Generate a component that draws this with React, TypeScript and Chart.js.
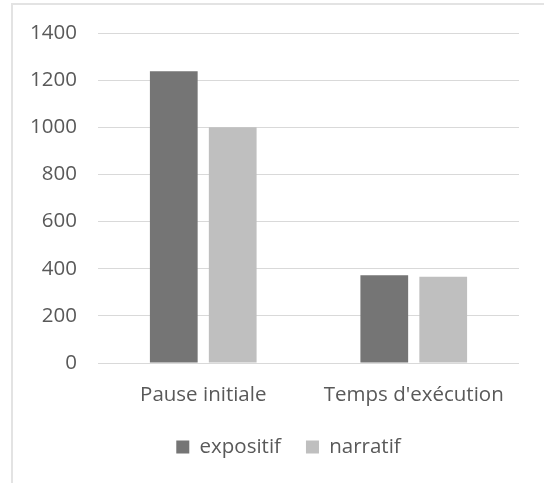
import React, { useEffect, useRef } from "react";
import { Chart, registerables } from "chart.js";

Chart.register(...registerables);

const categories = ["Pause initiale", "Temps d'exécution"];
const expositif = [1238, 372];
const narratif = [1000, 366];
const seriesNames = ["expositif", "narratif"];
const yTicks = [0, 200, 400, 600, 800, 1000, 1200, 1400];

const FONT = "'Open Sans', sans-serif";
const FS = 20.5;
const TEXT = "#595959";

export default function App() {
  const ref = useRef<HTMLCanvasElement | null>(null);

  useEffect(() => {
    if (!ref.current) return;
    const legendShift = {
      id: "legendShift",
      afterLayout(chart: any) {
        const l = chart.legend;
        if (l) {
          l.left += 29;
          l.right += 29;
        }
      },
    };
    const chart = new Chart(ref.current, {
      type: "bar",
      data: {
        labels: categories,
        datasets: [
          {
            label: seriesNames[0],
            data: expositif,
            backgroundColor: "#757575",
            borderWidth: 0,
          },
          {
            label: seriesNames[1],
            data: narratif,
            backgroundColor: "#bfbfbf",
            borderWidth: 0,
          },
        ],
      },
      options: {
        responsive: false,
        animation: false,
        devicePixelRatio: 1,
        categoryPercentage: 0.56,
        barPercentage: 0.81,
        layout: { padding: { left: 0, right: 25, top: 33, bottom: 15.75 } },
        plugins: {
          tooltip: { enabled: false },
          legend: {
            position: "bottom",
            labels: {
              boxWidth: 13,
              boxHeight: 13,
              padding: 25,
              color: TEXT,
              font: { family: FONT, size: FS },
            },
          },
        },
        scales: {
          x: {
            grid: { display: false, drawTicks: false },
            border: { display: false },
            ticks: {
              color: TEXT,
              padding: 19.7,
              font: { family: FONT, size: FS },
              maxRotation: 0,
            },
            afterFit: (s: any) => {
              s.height = 48.75;
              s.paddingLeft = 0;
              s.paddingRight = 0;
            },
          },
          y: {
            min: 0,
            max: 1400,
            afterBuildTicks: (s: any) => {
              s.ticks = yTicks.map((v) => ({ value: v }));
            },
            grid: { color: "#d9d9d9", lineWidth: 1, drawTicks: false },
            border: { display: false },
            ticks: {
              color: TEXT,
              padding: 21,
              font: { family: FONT, size: FS },
              callback: (v: any) => String(v),
            },
            afterFit: (s: any) => {
              s.width = 98;
              s.paddingTop = 0;
              s.paddingBottom = 0;
            },
          },
        },
      },
      plugins: [legendShift],
    });
    return () => chart.destroy();
  }, []);

  return (
    <div
      style={{
        position: "fixed",
        left: 0,
        top: 0,
        width: 544,
        height: 483,
        overflow: "hidden",
        background: "#fff",
      }}
    >
      <div
        style={{
          position: "absolute",
          left: 11,
          top: 3,
          width: 600,
          height: 600,
          border: "2px solid #e3e3e3",
          boxSizing: "border-box",
        }}
      />
      <canvas
        ref={ref}
        width={544}
        height={483}
        style={{ position: "absolute", left: 0, top: 0, width: 544, height: 483 }}
      />
    </div>
  );
}
